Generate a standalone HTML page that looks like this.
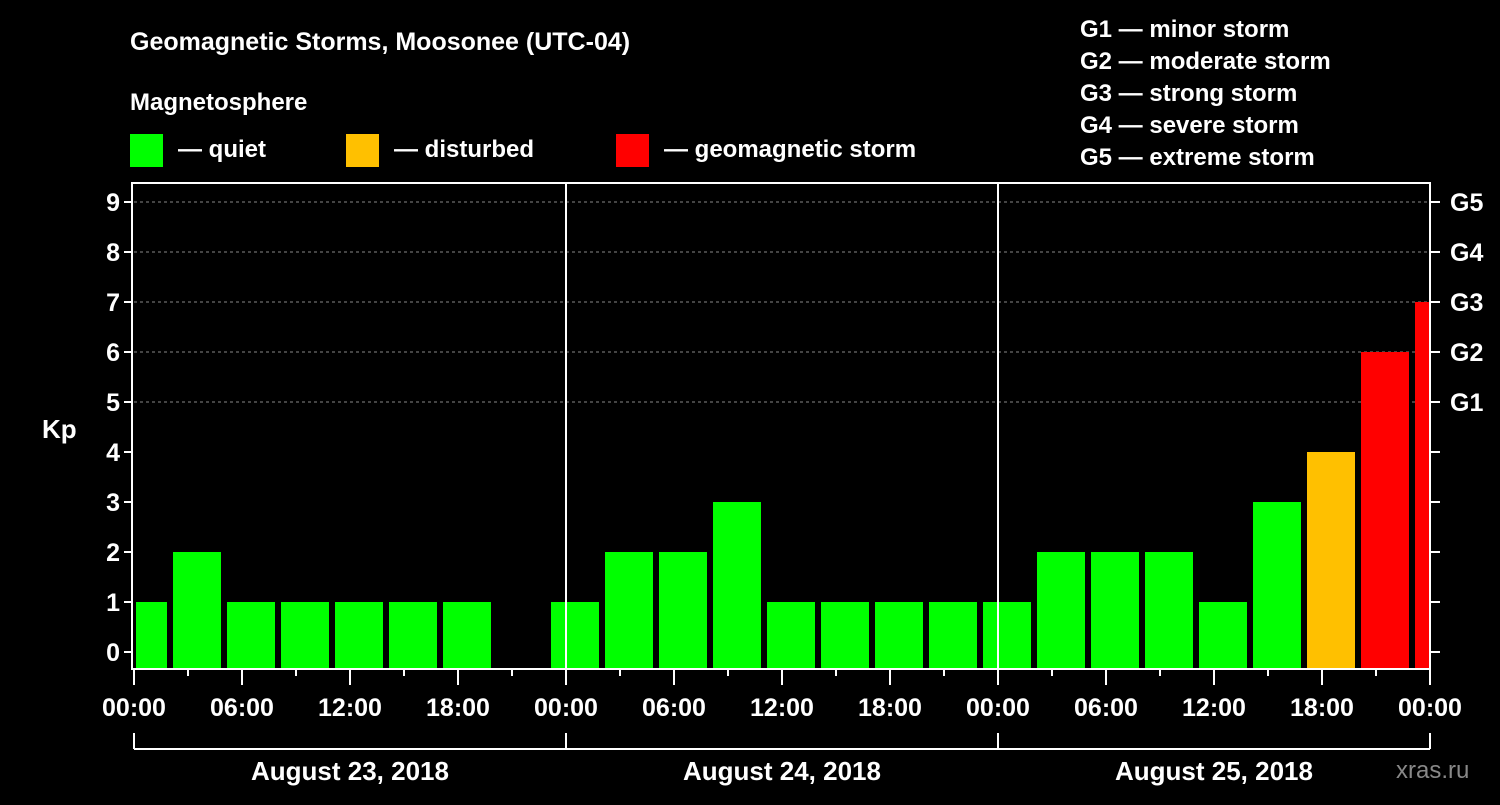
<!DOCTYPE html>
<html><head><meta charset="utf-8"><style>
body{margin:0;background:#000;width:1500px;height:800px;overflow:hidden}
svg{font-family:"Liberation Sans",sans-serif;font-weight:bold}
</style></head><body>
<svg id="c" width="1500" height="800">
<text x="130" y="50" fill="#fff" font-size="25">Geomagnetic Storms, Moosonee (UTC-04)</text>
<text x="130" y="110" fill="#fff" font-size="24">Magnetosphere</text>
<g><rect x="130" y="134" width="33" height="33" fill="#00ff00"/><text x="178" y="157" fill="#fff" font-size="24">— quiet</text></g>
<g><rect x="346" y="134" width="33" height="33" fill="#ffc000"/><text x="394" y="157" fill="#fff" font-size="24">— disturbed</text></g>
<g><rect x="616" y="134" width="33" height="33" fill="#ff0000"/><text x="664" y="157" fill="#fff" font-size="24">— geomagnetic storm</text></g>
<g fill="#fff" font-size="24">
<text x="1080" y="37">G1 — minor storm</text><text x="1080" y="69">G2 — moderate storm</text><text x="1080" y="101">G3 — strong storm</text><text x="1080" y="133">G4 — severe storm</text><text x="1080" y="165">G5 — extreme storm</text></g>
<text x="42" y="438" fill="#fff" font-size="26">Kp</text>
<text x="1396" y="778" fill="#888" font-size="24" font-weight="normal">xras.ru</text>
<g id="plot"></g>
</svg>
<script>
const startHour = -1; // first interval starts 23:00 on previous day
const kpValues = [1,2,1,1,1,1,1,null,1,2,2,3,1,1,1,1,1,2,2,2,1,3,4,6,7];
const yTicks = [0,1,2,3,4,5,6,7,8,9];
const gLabels = ["G1","G2","G3","G4","G5"];
const dayLabels = ["August 23, 2018","August 24, 2018","August 25, 2018"];
const hourLabels = ["00:00","06:00","12:00","18:00"];
const L=134,R=1430,T=183,B=668,PX_H=18;
const xs=h=>L+h*PX_H, ys=v=>652-v*50;
const ns="http://www.w3.org/2000/svg", g=document.getElementById('plot');
function mk(t,a,txt){const e=document.createElementNS(ns,t);for(const k in a)e.setAttribute(k,a[k]);if(txt!=null)e.textContent=txt;g.appendChild(e);return e;}
// grid
yTicks.filter(v=>v>=5).forEach(v=>{const e=mk('line',{x1:L,x2:R,y1:ys(v),y2:ys(v),stroke:'#888','stroke-dasharray':'3,3'});

});
// bars
kpValues.forEach((v,i)=>{if(v==null)return;const h0=startHour+i*3;let x0=Math.max(xs(h0)+3,L+2),x1=Math.min(xs(h0+3)-3,R);
const c=v>=5?'#ff0000':v>=4?'#ffc000':'#00ff00';
const e=mk('rect',{x:x0,y:ys(v),width:x1-x0,height:B-ys(v),fill:c});

});
// day separators
[1,2].forEach(d=>{const e=mk('line',{x1:xs(d*24),x2:xs(d*24),y1:T,y2:B,stroke:'#fff','stroke-width':2});

});
// frame
const fr=mk('rect',{x:L-2,y:T,width:R-L+2,height:B-T+1,fill:'none',stroke:'#fff','stroke-width':2});


// y ticks
yTicks.forEach(v=>{mk('line',{x1:L-10,x2:L-2,y1:ys(v),y2:ys(v),stroke:'#fff','stroke-width':2});mk('line',{x1:R,x2:R+10,y1:ys(v),y2:ys(v),stroke:'#fff','stroke-width':2});
const t=mk('text',{x:L-14,y:ys(v)+9,fill:'#fff','font-size':25,'text-anchor':'end'},String(v));

});
gLabels.forEach((s,i)=>{const t=mk('text',{x:R+20,y:ys(5+i)+9,fill:'#fff','font-size':25},s);

});
// x ticks
for(let h=0;h<=72;h+=3){mk('line',{x1:xs(h),x2:xs(h),y1:B,y2:B+(h%6?8:17),stroke:'#fff','stroke-width':2});}
for(let h=0;h<=72;h+=6){const t=mk('text',{x:xs(h),y:716,fill:'#fff','font-size':25,'text-anchor':'middle'},hourLabels[(h/6)%4]);

}
// day brackets
mk('line',{x1:L,x2:R,y1:749,y2:749,stroke:'#fff','stroke-width':2});
for(let d=0;d<=3;d++)mk('line',{x1:xs(d*24),x2:xs(d*24),y1:733,y2:749,stroke:'#fff','stroke-width':2});
dayLabels.forEach((s,d)=>{const t=mk('text',{x:xs(d*24+12),y:780,fill:'#fff','font-size':26,'text-anchor':'middle'},s);

});
</script>
</body></html>
